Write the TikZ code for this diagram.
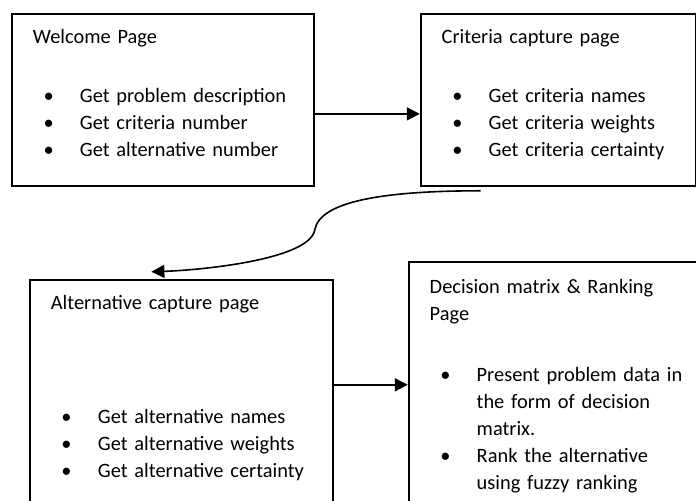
\documentclass[tikz,border=0pt]{standalone}
\usepackage{fontspec}
\setmainfont{Carlito}
\usetikzlibrary{positioning}
\usetikzlibrary{arrows.meta}
\newcommand{\pbul}[1]{\hspace*{5.3pt}\makebox[18.2pt][l]{\textbullet}\mbox{#1}}
\newcommand{\pind}[1]{\hspace*{23.5pt}\mbox{#1}}
\tikzset{
  page/.style={draw, line width=0.9pt, inner xsep=10.5pt, inner ysep=0pt, align=left,
    font=\fontsize{10.2pt}{13.5pt}\selectfont},
  >={Triangle[length=6.5pt,width=6.5pt]}
}

\begin{document}
\begin{tikzpicture}
        \useasboundingbox (0,0) rectangle (348pt,-250.5pt);
        % page boxes
        \node[page, text width=130pt, anchor=north west] (welcome) at (5.5pt,-6.5pt)
          {\rule{0pt}{15pt}Welcome Page\\[16pt]
           \pbul{Get problem description}\\
           \pbul{Get criteria number}\\
           \pbul{Get alternative number}\rule[-14.5pt]{0pt}{0pt}};
        \node[page, text width=116.5pt, right=52.5pt of welcome] (criteria)
          {\rule{0pt}{15pt}Criteria capture page\\[16pt]
           \pbul{Get criteria names}\\
           \pbul{Get criteria weights}\\
           \pbul{Get criteria certainty}\rule[-14.5pt]{0pt}{0pt}};
        \node[page, text width=130.5pt, below=46pt of welcome.south west, anchor=north west, xshift=9pt] (alt)
          {\rule{0pt}{15pt}Alternative capture page\\[43.5pt]
           \pbul{Get alternative names}\\
           \pbul{Get alternative weights}\\
           \pbul{Get alternative certainty}\rule[-22pt]{0pt}{0pt}};
        \node[page, text width=141pt, right=37pt of alt.north east, anchor=north west, yshift=9pt] (decision)
          {\rule{0pt}{16pt}Decision matrix \& Ranking\\
           Page\\[17pt]
           \pbul{Present problem data in}\\
           \pind{the form of decision}\\
           \pind{matrix.}\\
           \pbul{Rank the alternative}\\
           \pind{using fuzzy ranking}\rule[-20pt]{0pt}{0pt}};

        % edges
        \coordinate (bend) at ([yshift=-21.5pt]welcome.south east);
        \draw [->, line width=0.8pt] ([yshift=-7pt]welcome.east) -- ([yshift=-7pt]criteria.west);
        \draw [->, line width=0.8pt] ([xshift=-38.75pt,yshift=-2pt]criteria.south)
          to [out=180,in=80,out looseness=1.48,in looseness=0.43] (bend)
          to [out=260,in=2,out looseness=0.46,in looseness=0.76] ([xshift=-15pt,yshift=3.5pt]alt.north);
        \draw [->, line width=0.8pt] ([yshift=-53pt]alt.north east) -- ([yshift=-62pt]decision.north west);
\end{tikzpicture}
\end{document}
